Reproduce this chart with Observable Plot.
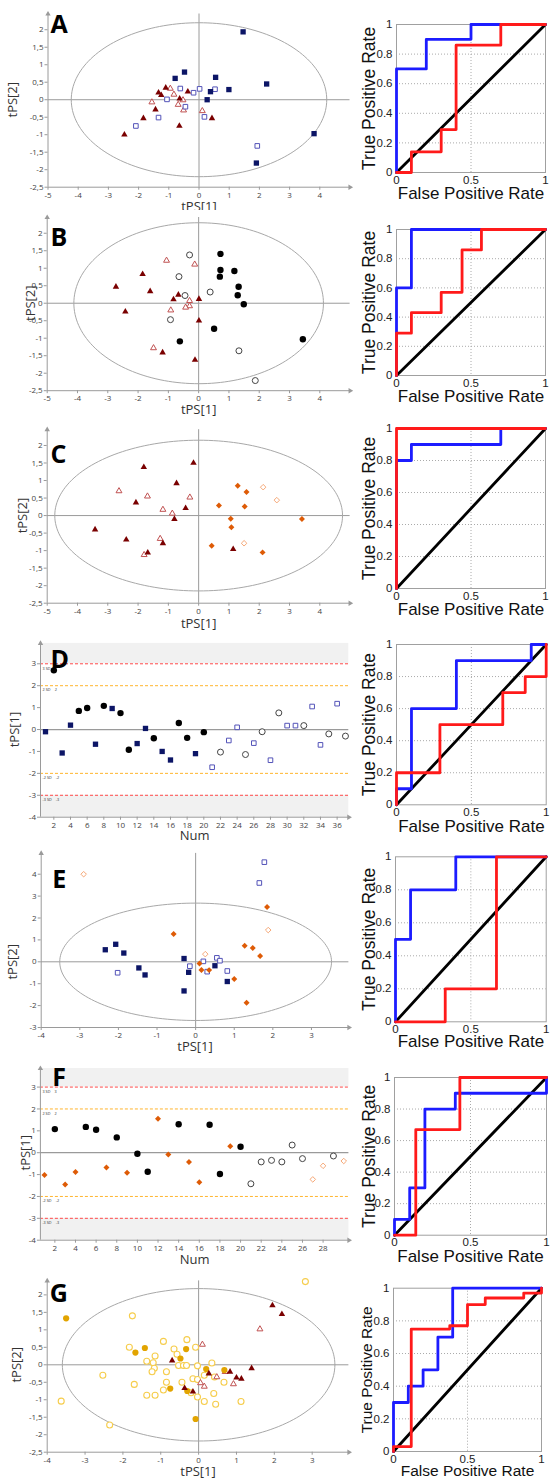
<!DOCTYPE html>
<html><head><meta charset="utf-8">
<script src="https://cdn.jsdelivr.net/npm/d3@7"></script>
<script src="https://cdn.jsdelivr.net/npm/@observablehq/plot@0.6"></script>
<style>
body{margin:0;background:#fff;}
#fig{position:relative;width:550px;height:1483px;overflow:hidden;background:#fff;}
.p{position:absolute;line-height:0;}
</style></head><body><div id="fig"></div>
<script>
// ---------------- DATA ----------------
// Panel A (tPS[1], tPS[2])
const A_sqFilled = [[1.46,1.94],[-0.48,0.79],[-0.79,0.61],[0.55,0.64],[2.24,0.45],[0.99,0.29],[0.38,0.23],[0.27,0.0],[3.81,-0.97],[1.9,-1.81]];
const A_sqOpen = [[-1.06,0.01],[-0.62,0.32],[-0.18,0.2],[0.02,0.31],[0.53,0.3],[-0.45,-0.2],[-1.34,-0.51],[-2.09,-0.75],[0.18,-0.49],[1.93,-1.32]];
const A_triFilled = [[-1.1,0.34],[-1.34,0.2],[-1.25,0.13],[-0.37,0.23],[-0.64,0.03],[-1.44,-0.28],[-1.84,-0.53],[-0.65,-0.75],[0.43,-0.53],[-2.47,-1.0]];
const A_triOpen = [[-0.95,0.32],[-0.83,0.15],[-1.56,-0.07],[-0.53,-0.01],[-0.69,-0.14],[-0.51,-0.3],[0.11,-0.32]];
// Panel B
const B_circFilled = [[0.72,1.41],[0.72,0.95],[0.7,0.76],[1.18,0.92],[1.32,0.47],[1.29,0.23],[1.49,-0.03],[0.51,-0.73],[-0.62,-1.09],[3.44,-1.03]];
const B_circOpen = [[-0.3,1.38],[-0.65,0.76],[-0.45,0.22],[0.38,0.32],[-0.93,-0.47],[1.33,-1.36],[1.87,-2.21]];
const B_triFilled = [[-2.73,0.47],[-1.85,0.83],[-1.6,0.34],[-2.42,-0.24],[-0.67,0.24],[-0.83,0.11],[0.01,0.12],[0.01,-0.5],[-1.19,-1.41],[-0.12,-1.62]];
const B_triOpen = [[-1.06,1.22],[-0.13,1.11],[-0.3,0.07],[-0.3,-0.08],[-0.43,-0.12],[-0.92,-0.2],[-1.49,-1.28]];
// Panel C
const C_triFilled = [[-1.81,1.38],[-0.17,1.5],[-0.73,0.92],[-2.07,0.37],[-0.43,0.21],[-0.8,-0.1],[-3.42,-0.4],[-2.39,-0.69],[-1.18,-0.79],[-1.68,-1.06],[1.14,-0.96]];
const C_triOpen = [[-2.63,0.7],[-1.69,0.55],[-0.29,0.52],[-1.18,0.17],[-0.87,0.06],[-1.27,-0.66],[-1.8,-1.12]];
const C_diaFilled = [[1.29,0.85],[1.58,0.67],[0.67,0.29],[1.52,0.26],[1.06,-0.09],[1.08,-0.33],[3.41,-0.1],[0.43,-0.86],[2.11,-1.05]];
const C_diaOpen = [[2.13,0.81],[2.58,0.44],[1.5,-0.79]];
// Panel D (Num, tPS[1])
const D_sqFilled = [[1,-0.1],[3,-1.07],[4,0.2],[7,-0.67],[9,0.96],[12,-0.64],[13,0.05],[15,-1.0],[16,-1.39],[19,-1.1]];
const D_circFilled = [[2,2.7],[5,0.85],[6,0.98],[8,1.08],[10,0.75],[11,-0.92],[14,-0.4],[17,0.3],[18,-0.38],[20,-0.12]];
const D_circOpen = [[22,-1.03],[25,-1.14],[27,-0.1],[29,0.76],[32,0.18],[35,-0.2],[37,-0.3]];
const D_sqOpen = [[21,-1.72],[23,-0.5],[24,0.1],[26,-0.62],[28,-1.4],[30,0.18],[31,0.18],[33,1.05],[34,-0.7],[36,1.18]];
// Panel E
const E_sqFilled = [[-2.34,0.55],[-2.07,0.8],[-1.86,0.4],[-1.47,-0.28],[-1.31,-0.6],[-0.3,0.15],[-0.18,-0.48],[-0.3,-1.33],[0.5,-0.18],[0.82,-0.9]];
const E_sqOpen = [[1.78,4.55],[1.65,3.6],[-2.02,-0.5],[-0.15,-0.2],[0.2,0.02],[0.55,0.18],[0.63,0.05],[0.3,-0.45],[0.82,-0.42]];
const E_diaFilled = [[1.85,2.5],[-0.57,1.27],[1.27,0.73],[1.48,0.63],[1.67,0.27],[0.1,-0.08],[0.15,-0.37],[0.35,-0.38],[1.0,-0.78],[1.32,-1.87]];
const E_diaOpen = [[-2.9,4.0],[1.88,1.45],[0.25,0.35]];
// Panel F (Num, tPS[1])
const F_circFilled = [[2,1.08],[5,1.18],[6,1.05],[8,0.7],[10,-0.05],[11,-0.87],[14,1.3],[17,1.28],[18,-0.97],[20,0.27]];
const F_diaFilled = [[1,-1.02],[3,-1.45],[4,-0.88],[7,-0.68],[9,-0.92],[12,1.55],[13,-0.08],[15,-0.42],[16,-1.35],[19,0.3]];
const F_circOpen = [[21,-1.42],[22,-0.42],[23,-0.35],[24,-0.42],[25,0.35],[26,-0.27],[29,-0.15]];
const F_diaOpen = [[27,-1.22],[28,-0.6],[30,-0.38]];
// Panel G
const G_circFilled = [[-3.5,1.33],[-1.42,0.48],[-1.67,0.35],[-0.33,0.45],[-0.48,0.18],[0.2,-0.12],[0.68,-0.15],[-0.75,-0.68],[-0.3,-0.75],[-0.08,-1.55]];
const G_circOpen = [[2.82,2.38],[-1.75,1.4],[-0.93,0.67],[-0.31,0.72],[-0.08,0.5],[-1.83,0.5],[-0.65,0.45],[-0.57,0.3],[-1.15,0.25],[-1.37,0.1],[-1.2,0.06],[-1.17,-0.1],[-1.23,-0.2],[-0.53,-0.02],[-0.4,-0.02],[-0.32,-0.02],[-0.03,-0.03],[0.35,0.05],[0.15,-0.3],[0.42,-0.35],[-0.85,-0.2],[-0.85,-0.5],[-0.93,-0.72],[-1.15,-0.87],[-1.37,-0.87],[-0.44,-0.5],[-0.15,-0.4],[0.67,-0.5],[0.4,-0.82],[0.15,-1.05],[0.45,-1.13],[1.12,-1.05],[-0.03,-0.92],[-0.2,-0.8],[-2.53,-0.3],[-1.7,-0.56],[-3.63,-1.04],[-2.35,-1.72],[-0.03,-0.42]];
const G_triFilled = [[1.95,1.7],[2.2,1.45],[-0.7,0.12],[0.27,-0.25],[0.83,-0.2],[1.0,-0.37],[1.13,-0.4],[1.4,-0.1],[-0.37,-0.67],[-0.15,-0.77]];
const G_triOpen = [[1.62,1.02],[0.1,0.58],[0.48,-0.35],[0.7,-0.2],[0.05,-0.52],[0.15,-0.62],[0.92,-0.55]];

// Hotelling ellipse radii [rx, ry]
const A_ellipse = [4.23, 2.2];
const B_ellipse = [4.12, 2.3];
const C_ellipse = [4.75, 2.15];
const E_ellipse = [3.52, 2.68];
const G_ellipse = [3.6, 2.18];

// tick values
const pcaX5 = [-5,-4,-3,-2,-1,0,1,2,3,4];
const pcaX4 = [-4,-3,-2,-1,0,1,2,3];
const pcaY25 = [-2.5,-2,-1.5,-1,-0.5,0,0.5,1,1.5,2];
const E_yTicks = [-3,-2,-1,0,1,2,3,4];
const numY = [-4,-3,-2,-1,0,1,2,3];
const D_xTicks = [2,4,6,8,10,12,14,16,18,20,22,24,26,28,30,32,34,36];
const F_xTicks = [2,4,6,8,10,12,14,16,18,20,22,24,26,28];
const sdLevels = [3,2,-2,-3];
const sdLabels = ["3 SD = 3","2 SD = 2","-2 SD = -2","-3 SD = -3"];
const rocX = [0,0.5,1];
const rocY = [0,0.2,0.4,0.6,0.8,1];
const rocDiag = [[0,0],[1,1]];

// ROC curves [FPR, TPR]
const A_blue = [[0,0],[0,0.7],[0.2,0.7],[0.2,0.9],[0.5,0.9],[0.5,1],[1,1]];
const A_red = [[0,0],[0.1,0],[0.1,0.14],[0.3,0.14],[0.3,0.29],[0.4,0.29],[0.4,0.86],[0.7,0.86],[0.7,1],[1,1]];
const B_blue = [[0,0],[0,0.6],[0.1,0.6],[0.1,1],[1,1]];
const B_red = [[0,0],[0,0.29],[0.1,0.29],[0.1,0.43],[0.3,0.43],[0.3,0.57],[0.44,0.57],[0.44,0.86],[0.57,0.86],[0.57,1],[1,1]];
const C_blue = [[0,0],[0,0.8],[0.1,0.8],[0.1,0.9],[0.7,0.9],[0.7,1],[1,1]];
const C_red = [[0,0],[0,1],[1,1]];
const D_blue = [[0,0],[0,0.1],[0.1,0.1],[0.1,0.6],[0.4,0.6],[0.4,0.9],[0.9,0.9],[0.9,1],[1,1]];
const D_red = [[0,0],[0,0.2],[0.29,0.2],[0.29,0.5],[0.71,0.5],[0.71,0.7],[0.86,0.7],[0.86,0.8],[1,0.8],[1,1]];
const E_blue = [[0,0],[0,0.5],[0.1,0.5],[0.1,0.8],[0.4,0.8],[0.4,1],[1,1]];
const E_red = [[0,0],[0.33,0],[0.33,0.2],[0.67,0.2],[0.67,1],[1,1]];
const F_blue = [[0,0],[0,0.1],[0.1,0.1],[0.1,0.3],[0.2,0.3],[0.2,0.8],[0.4,0.8],[0.4,0.9],[1,0.9],[1,1]];
const F_red = [[0,0],[0.14,0],[0.14,0.67],[0.43,0.67],[0.43,1],[1,1]];
const G_blue = [[0,0],[0,0.3],[0.1,0.3],[0.1,0.4],[0.2,0.4],[0.2,0.5],[0.3,0.5],[0.3,0.7],[0.4,0.7],[0.4,1],[1,1]];
const G_red = [[0,0],[0,0.03],[0.12,0.03],[0.12,0.75],[0.38,0.75],[0.38,0.77],[0.5,0.77],[0.5,0.9],[0.62,0.9],[0.62,0.94],[0.88,0.94],[0.88,0.97],[1,0.97],[1,1]];

// ---------------- STYLE ----------------
const FONT = "'Open Sans','Noto Sans',sans-serif";
const RFONT = "'Liberation Sans',Arial,sans-serif";
const AX = "#9a9a9a";
const S = {
  sqF:  {symbol:"square",   fill:"#0c1566", stroke:"none", r:3},
  sqO:  {symbol:"square",   fill:"white", stroke:"#5353b8", strokeWidth:1, r:2.6},
  triF: {symbol:"triangle", fill:"#7a0000", stroke:"none", r:2.4},
  triO: {symbol:"triangle", fill:"white", stroke:"#c05252", strokeWidth:1, r:2.2},
  cF:   {symbol:"circle",   fill:"#000", stroke:"none", r:3.2},
  cO:   {symbol:"circle",   fill:"white", stroke:"#444", strokeWidth:1, r:3},
  dF:   {symbol:"diamond2", fill:"#de5b06", stroke:"none", r:2.7},
  dO:   {symbol:"diamond2", fill:"white", stroke:"#f6a877", strokeWidth:1, r:2.5},
  gF:   {symbol:"circle",   fill:"#e2a400", stroke:"none", r:3.1},
  gO:   {symbol:"circle",   fill:"white", stroke:"#f6cd4c", strokeWidth:1.1, r:3}
};

const fig = document.getElementById("fig");
function place(el, left, top){
  const d = document.createElement("div");
  d.className = "p"; d.style.left = left + "px"; d.style.top = top + "px";
  d.appendChild(el); fig.appendChild(d);
}
const comma = d => String(d).replace(".", ",");
function ellipsePts(e){
  return d3.range(0, 361, 2).map(a => [e[0]*Math.cos(a*Math.PI/180), e[1]*Math.sin(a*Math.PI/180)]);
}

function scatter(c){
  const W = 360;
  const mL = c.xPx[0], mR = W - c.xPx[1];
  const mT = c.yPx[0] - c.top, mB = c.top + c.height - c.yPx[1];
  const x0 = c.xDomain[0], x1 = c.xDomain[1], y0 = c.yDomain[0], y1 = c.yDomain[1];
  const marks = [];
  if (c.sd) {
    marks.push(Plot.rect([[y0,-3],[3,y1]], {x1:x0, x2:x1, y1:d=>d[0], y2:d=>d[1], fill:"#f1f1f1"}));
    marks.push(Plot.ruleY([3,-3], {stroke:"#ff4a4a", strokeWidth:1, strokeDasharray:"3,2"}));
    marks.push(Plot.ruleY([2,-2], {stroke:"#ffb52e", strokeWidth:1, strokeDasharray:"3,2"}));
    marks.push(Plot.text(sdLevels, {x:x0, y:d=>d, text:(d,i)=>sdLabels[i], dx:2, dy:4.5, textAnchor:"start", fontSize:3.8, fill:"#333"}));
    marks.push(Plot.ruleY([0], {stroke:AX, strokeWidth:1.2}));
  } else {
    marks.push(Plot.ruleY([0], {stroke:AX, strokeWidth:1}));
    marks.push(Plot.ruleX([0], {stroke:AX, strokeWidth:1}));
    marks.push(Plot.line(ellipsePts(c.ellipse), {x:d=>d[0], y:d=>d[1], stroke:"#a8a8a8", strokeWidth:1}));
  }
  // axis lines + arrows
  marks.push(Plot.ruleY([y0], {stroke:AX}));
  marks.push(Plot.ruleX([x0], {stroke:AX}));
  marks.push(Plot.dot([[x1,y0]], {x:d=>d[0], y:d=>d[1], symbol:"triangle", rotate:90, r:2, fill:AX}));
  marks.push(Plot.dot([[x0,y1]], {x:d=>d[0], y:d=>d[1], symbol:"triangle", r:2, fill:AX}));
  marks.push(Plot.axisX({ticks:c.xTicks, tickFormat:comma, tickSize:3, tickPadding:2, fontSize:8, stroke:AX, fill:"#444", label:null}));
  marks.push(Plot.axisY({ticks:c.yTicks, tickFormat:comma, tickSize:3, tickPadding:1.5, fontSize:8, stroke:AX, fill:"#444", label:null}));
  for (const s of c.series) {
    const st = S[s[1]];
    marks.push(Plot.dot(s[0], {x:d=>d[0], y:d=>d[1], ...st}));
  }
  marks.push(Plot.text([c.letter], {frameAnchor:"top-left", dx:c.letterPos[0]-c.xPx[0], dy:c.letterPos[1]-c.yPx[0], lineAnchor:"top", textAnchor:"start", fontSize:25, fontWeight:"bold", fill:"#000", fontFamily:FONT}));
  marks.push(Plot.text([c.xLabel], {frameAnchor:"bottom", textAnchor:"middle", dy:c.xLabelY - c.yPx[1], fontSize:13, fill:"#333", fontFamily:FONT}));
  marks.push(Plot.text([c.yLabel], {x:x0, y:0, dx:c.yLabelX - c.xPx[0], rotate:-90, textAnchor:"middle", fontSize:13, fill:"#333", fontFamily:FONT}));
  const p = Plot.plot({
    width:W, height:c.height, marginLeft:mL, marginRight:mR, marginTop:mT, marginBottom:mB,
    x:{domain:c.xDomain}, y:{domain:c.yDomain},
    style:{background:c.bg || "transparent", fontFamily:FONT, overflow:"visible"},
    marks
  });
  place(p, 0, c.top);
}

function roc(c){
  const left = 350, W = 550 - left;
  const [l, r, t, b] = c.frame;
  const p = Plot.plot({
    width:W, height:c.height, marginLeft:l-left, marginRight:550-r, marginTop:t-c.top, marginBottom:c.top+c.height-b,
    x:{domain:[0,1]}, y:{domain:[0,1]},
    style:{background:"transparent", fontFamily:RFONT, overflow:"visible"},
    marks:[
      Plot.gridX([0.5], {stroke:"#aaa", strokeOpacity:1, strokeDasharray:"1,2"}),
      Plot.gridY([0.2,0.4,0.6,0.8], {stroke:"#aaa", strokeOpacity:1, strokeDasharray:"1,2"}),
      Plot.frame({stroke:"#a0a0a0"}),
      Plot.line(rocDiag, {x:d=>d[0], y:d=>d[1], stroke:"#000", strokeWidth:2.8}),
      Plot.line(c.blue, {x:d=>d[0], y:d=>d[1], stroke:"#1c1cff", strokeWidth:2.8}),
      Plot.line(c.red, {x:d=>d[0], y:d=>d[1], stroke:"#ff1a1a", strokeWidth:2.8}),
      Plot.axisX({ticks:rocX, tickFormat:d=>String(d), tickSize:0, tickPadding:3, fontSize:11.5, fill:"#222", label:null}),
      Plot.axisY({ticks:rocY, tickFormat:d=>String(d), tickSize:0, tickPadding:4, fontSize:11.5, fill:"#222", label:null}),
      Plot.text(["False Positive Rate"], {frameAnchor:"bottom", textAnchor:"middle", dy:c.titleY - b, fontSize:c.ts || 17, fill:"#111"}),
      Plot.text(["True Positive Rate"], {frameAnchor:"left", textAnchor:"middle", dx:(c.yTitleX || 374) - l, rotate:-90, lineAnchor:"bottom", fontSize:c.ts || 17.5, fill:"#111"})
    ]
  });
  place(p, left, c.top);
}

// ---------------- PANELS ----------------
scatter({top:0, height:212, xDomain:[-5,5], xPx:[47.5,349.5], yDomain:[-2.5,2.45], yPx:[13.5,186.7],
  xTicks:pcaX5, yTicks:pcaY25, ellipse:A_ellipse, letter:"A", letterPos:[50,15], xLabel:"tPS[1]", xLabelY:210, yLabel:"tPS[2]", yLabelX:12,
  series:[[A_triOpen,"triO"],[A_sqOpen,"sqO"],[A_triFilled,"triF"],[A_sqFilled,"sqF"]]});
scatter({top:210, height:210, bg:"white", xDomain:[-5,5], xPx:[46.7,349.6], yDomain:[-2.5,2.45], yPx:[217,390.2],
  xTicks:pcaX5, yTicks:pcaY25, ellipse:B_ellipse, letter:"B", letterPos:[50,228], xLabel:"tPS[1]", xLabelY:413.5, yLabel:"tPS[2]", yLabelX:30,
  series:[[B_triOpen,"triO"],[B_circOpen,"cO"],[B_triFilled,"triF"],[B_circFilled,"cF"]]});
scatter({top:420, height:215, xDomain:[-5,5], xPx:[46.7,349.6], yDomain:[-2.5,2.45], yPx:[429.2,602.7],
  xTicks:pcaX5, yTicks:pcaY25, ellipse:C_ellipse, letter:"C", letterPos:[50,445], xLabel:"tPS[1]", xLabelY:627.5, yLabel:"tPS[2]", yLabelX:22,
  series:[[C_triOpen,"triO"],[C_diaOpen,"dO"],[C_triFilled,"triF"],[C_diaFilled,"dF"]]});
scatter({top:635, height:215, xDomain:[0.4,37.4], xPx:[40,348.3], yDomain:[-4,3.93], yPx:[642.9,816.7], sd:true,
  xTicks:D_xTicks, yTicks:numY, letter:"D", letterPos:[50,650], xLabel:"Num", xLabelY:839.5, yLabel:"tPS[1]", yLabelX:14.5,
  series:[[D_sqOpen,"sqO"],[D_circOpen,"cO"],[D_sqFilled,"sqF"],[D_circFilled,"cF"]]});
scatter({top:848, height:215, xDomain:[-4,3.97], xPx:[40.7,348.4], yDomain:[-3,4.95], yPx:[852.9,1027],
  xTicks:pcaX4, yTicks:E_yTicks, ellipse:E_ellipse, letter:"E", letterPos:[51.7,869.7], xLabel:"tPS[1]", xLabelY:1050, yLabel:"tPS[2]", yLabelX:12.5,
  series:[[E_sqOpen,"sqO"],[E_diaOpen,"dO"],[E_sqFilled,"sqF"],[E_diaFilled,"dF"]]});
scatter({top:1063, height:212, xDomain:[0.6,30.5], xPx:[39.9,348.4], yDomain:[-4,3.85], yPx:[1068,1239.7], sd:true,
  xTicks:F_xTicks, yTicks:numY, letter:"F", letterPos:[51.7,1068], xLabel:"Num", xLabelY:1263, yLabel:"tPS[1]", yLabelX:25,
  series:[[F_circOpen,"cO"],[F_diaOpen,"dO"],[F_circFilled,"cF"],[F_diaFilled,"dF"]]});
scatter({top:1275, height:208, xDomain:[-4,3.97], xPx:[46.7,348.4], yDomain:[-2.5,2.4], yPx:[1280.4,1451.7],
  xTicks:pcaX4, yTicks:pcaY25, ellipse:G_ellipse, letter:"G", letterPos:[49.3,1283.3], xLabel:"tPS[1]", xLabelY:1475, yLabel:"tPS[2]", yLabelX:16.7,
  series:[[G_circOpen,"gO"],[G_triOpen,"triO"],[G_circFilled,"gF"],[G_triFilled,"triF"]]});

roc({top:0, height:212, frame:[396,545,24,172], titleY:198, blue:A_blue, red:A_red});
roc({top:210, height:210, frame:[396,545,229,375], titleY:401, blue:B_blue, red:B_red});
roc({top:420, height:215, frame:[396,545,428,588], titleY:614, blue:C_blue, red:C_red});
roc({top:635, height:215, frame:[396,545.7,644,804.3], titleY:831, blue:D_blue, red:D_red});
roc({top:848, height:215, frame:[395,545.7,856.3,1021.3], titleY:1046.5, blue:E_blue, red:E_red});
roc({top:1063, height:212, frame:[394,546,1077,1234.7], titleY:1261.5, blue:F_blue, red:F_red});
roc({top:1275, height:208, frame:[393,541,1287.7,1451], titleY:1475, ts:15.5, yTitleX:371, blue:G_blue, red:G_red});
</script></body></html>
